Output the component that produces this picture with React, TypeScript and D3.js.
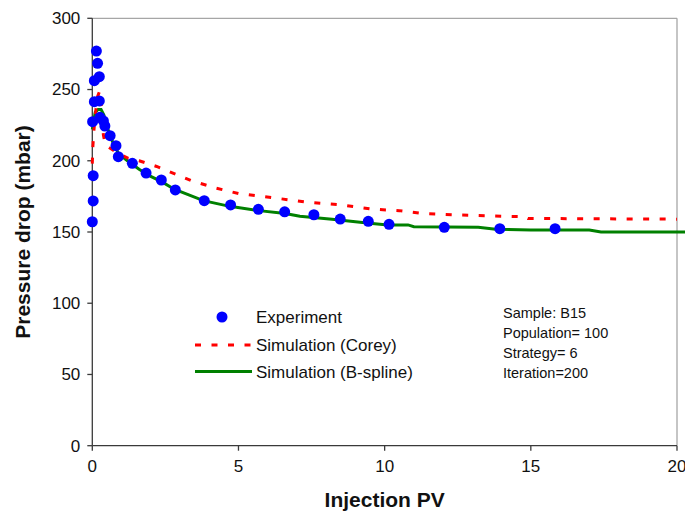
import React from "react";
import * as d3 from "d3";

const expPV = [0, 0.03, 0.03, 0.01, 0.07, 0.07, 0.14, 0.18, 0.24, 0.24, 0.26, 0.38, 0.43, 0.61, 0.81, 0.89, 1.37, 1.84, 2.36, 2.84, 3.83, 4.73, 5.68, 6.58, 7.58, 8.48, 9.44, 10.15, 12.04, 13.94, 15.83];
const expDP = [157.2, 171.8, 189.5, 227.4, 241.5, 256.2, 277, 268.4, 259, 242, 230.5, 228, 224.4, 217.6, 210.6, 202.9, 198.2, 191.4, 186.5, 179.5, 172, 169, 165.9, 164.2, 162.1, 159.1, 157.5, 155.4, 153.3, 152.3, 152.3];

const coreyPV = [0, 0.02, 0.05, 0.1, 0.18, 0.25, 0.3, 0.38, 0.45, 0.6, 0.9, 1.2, 1.6, 2.2, 2.8, 3.4, 4.2, 5.0, 6.2, 7.3, 8.5, 9.6, 10.5, 11.3, 11.9, 12.5, 14.2, 14.8, 14.9, 17, 20];
const coreyDP = [198, 210, 220, 232, 245, 249, 240, 218, 211, 209, 205, 202, 200, 196, 191, 186, 181, 177, 174, 171, 169, 166, 165, 163, 162.5, 162, 161, 160.8, 159.5, 159.3, 159];

const splinePV = [0, 0.05, 0.1, 0.2, 0.3, 0.4, 0.5, 0.7, 0.9, 1.2, 1.6, 2.0, 2.4, 2.8, 3.3, 3.8, 4.7, 5.7, 6.6, 7.1, 8.2, 9.4, 10.1, 10.8, 11.0, 13.2, 13.8, 15, 17, 17.4, 20.3];
const splineDP = [222, 228, 234, 236, 236, 232, 224, 213, 205, 200, 194, 189, 185, 180, 176, 172, 168, 165, 163, 161, 159, 156.3, 155, 155, 153.7, 153.3, 152, 151.4, 151.4, 150, 150];

const xTicks = [0, 5, 10, 15, 20];
const yTicks = [0, 50, 100, 150, 200, 250, 300];
const legendLabels = ["Experiment", "Simulation (Corey)", "Simulation (B-spline)"];
const noteLines = ["Sample: B15", "Population= 100", "Strategy= 6", "Iteration=200"];

export default function App() {
  const W = 685, H = 516;
  const x = d3.scaleLinear().domain([0, 20]).range([92.3, 677]);
  const y = d3.scaleLinear().domain([0, 300]).range([445.7, 18.3]);
  const line = d3.line<[number, number]>().x(d => x(d[0])).y(d => y(d[1]));
  const corey = coreyPV.map((v, i) => [v, coreyDP[i]] as [number, number]);
  const spline = splinePV.map((v, i) => [v, splineDP[i]] as [number, number]);
  const font = "'Liberation Sans', Arial, sans-serif";
  const axisColor = "#3a3a3a";
  return (
    <svg width={W} height={H} style={{ position: "absolute", left: 0, top: 0, background: "#fff" }} fontFamily={font}>
      {/* frame */}
      <line x1={x(0)} x2={x(20)} y1={y(300)} y2={y(300)} stroke="#a6a6a6" strokeWidth={1.3} />
      <line x1={x(20)} x2={x(20)} y1={y(300)} y2={y(0)} stroke="#a6a6a6" strokeWidth={1.3} />
      {/* axes */}
      <line x1={x(0)} x2={x(0)} y1={y(300)} y2={y(0)} stroke={axisColor} strokeWidth={1.3} />
      <line x1={x(0)} x2={x(20)} y1={y(0)} y2={y(0)} stroke={axisColor} strokeWidth={1.3} />
      {yTicks.map(t => (
        <g key={"y" + t}>
          <line x1={x(0) - 5} x2={x(0)} y1={y(t)} y2={y(t)} stroke={axisColor} strokeWidth={1.3} />
          <text x={x(0) - 12} y={y(t)} dy="0.35em" textAnchor="end" fontSize={17} fill="#111">{t}</text>
        </g>
      ))}
      {xTicks.map(t => (
        <g key={"x" + t}>
          <line x1={x(t)} x2={x(t)} y1={y(0)} y2={y(0) + 5} stroke={axisColor} strokeWidth={1.3} />
          <text x={x(t)} y={y(0) + 26} textAnchor="middle" fontSize={17} fill="#111">{t}</text>
        </g>
      ))}
      <text x={x(10)} y={507} textAnchor="middle" fontSize={21} fontWeight="bold" fill="#111">Injection PV</text>
      <text transform={`translate(30,${y(150)}) rotate(-90)`} textAnchor="middle" fontSize={21} fontWeight="bold" fill="#111">Pressure drop (mbar)</text>
      {/* series */}
      <path d={line(spline) || ""} fill="none" stroke="#008000" strokeWidth={3} />
      <path d={line(corey) || ""} fill="none" stroke="#ff0000" strokeWidth={3} strokeDasharray="6,10.5" />
      {expPV.map((v, i) => (
        <circle key={i} cx={x(v)} cy={y(expDP[i])} r={5.5} fill="#0000ff" />
      ))}
      {/* legend */}
      <circle cx={222} cy={317} r={5.5} fill="#0000ff" />
      <line x1={195} x2={252} y1={345} y2={345} stroke="#ff0000" strokeWidth={3} strokeDasharray="6,10.5" />
      <line x1={195} x2={252} y1={371.5} y2={371.5} stroke="#008000" strokeWidth={3} />
      {legendLabels.map((l, i) => (
        <text key={l} x={256} y={323 + i * 27.5} fontSize={17} fill="#111">{l}</text>
      ))}
      {noteLines.map((l, i) => (
        <text key={l} x={503} y={318 + i * 20} fontSize={14.5} fill="#111">{l}</text>
      ))}
    </svg>
  );
}
